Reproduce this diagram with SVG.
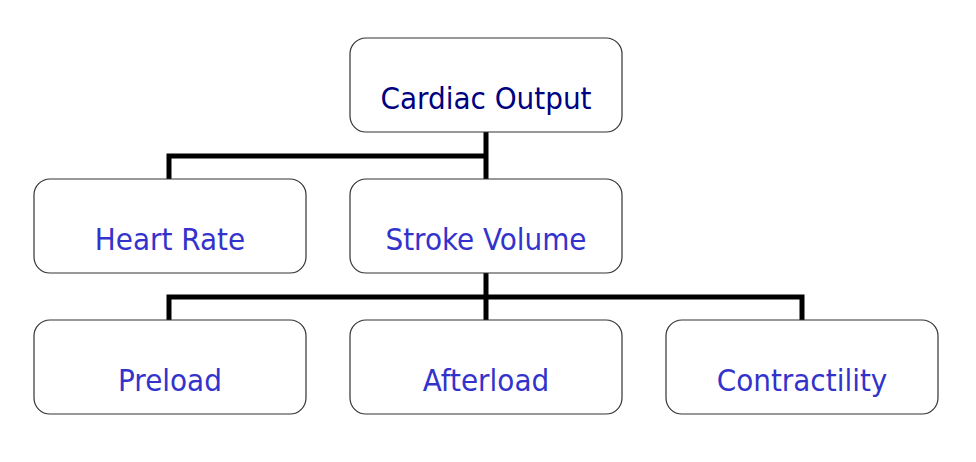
<svg xmlns="http://www.w3.org/2000/svg" width="976" height="462" viewBox="0 0 976 462">
<style>
.box{fill:#fff;stroke:#333;stroke-width:1.2}
.t{font-family:"DejaVu Sans Condensed","DejaVu Sans",sans-serif;font-size:31px;text-anchor:middle;fill:#3333CC}
.top{fill:#000080}
.c{fill:none;stroke:#000;stroke-width:5;stroke-linecap:butt}
</style>
<rect width="976" height="462" fill="#fff"/>
<g id="connectors">
<path class="c" d="M486 132V179M169 179V156H486"/>
<path class="c" d="M486 273V320M169 320V297H802V320"/>
</g>
<g id="cardiac-output"><rect class="box" x="350" y="38" width="272" height="94" rx="16"/><text class="t top" x="486" y="109">Cardiac Output</text></g>
<g id="heart-rate"><rect class="box" x="34" y="179" width="272" height="94" rx="16"/><text class="t" x="170" y="250">Heart Rate</text></g>
<g id="stroke-volume"><rect class="box" x="350" y="179" width="272" height="94" rx="16"/><text class="t" x="486" y="250">Stroke Volume</text></g>
<g id="preload"><rect class="box" x="34" y="320" width="272" height="94" rx="16"/><text class="t" x="170" y="391">Preload</text></g>
<g id="afterload"><rect class="box" x="350" y="320" width="272" height="94" rx="16"/><text class="t" x="486" y="391">Afterload</text></g>
<g id="contractility"><rect class="box" x="666" y="320" width="272" height="94" rx="16"/><text class="t" x="802" y="391">Contractility</text></g>
</svg>
